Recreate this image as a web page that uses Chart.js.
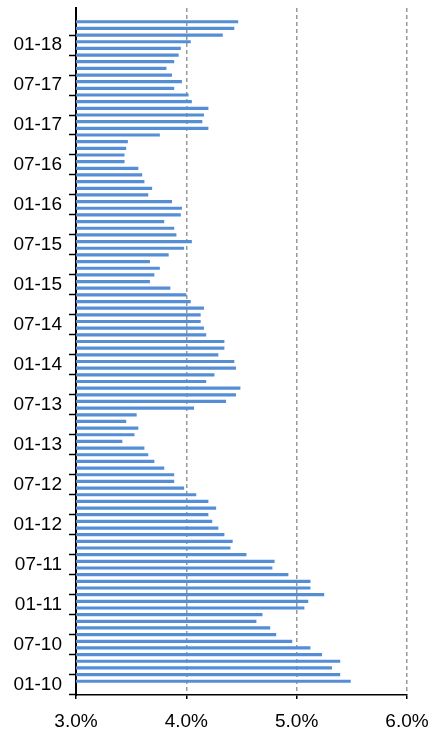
<!DOCTYPE html>
<html>
<head>
<meta charset="utf-8">
<script src="https://cdn.jsdelivr.net/npm/chart.js@4.4.1/dist/chart.umd.min.js"></script>
<style>
    html, body { margin: 0; padding: 0; background: #fff; }
    #wrap { width: 429px; height: 734px; }
</style>
</head>
<body>
<div id="wrap"><canvas id="rateChart"></canvas></div>
<script>
// Datos mensuales, de 01-10 a 04-18 (en %)
const startYear = 2010;
const rates = [
    5.49, 5.395, 5.32, 5.395, 5.23, 5.125, 4.96, 4.815, 4.76, 4.635, 4.69, 5.07,
    5.105, 5.25, 5.125, 5.125, 4.925, 4.78, 4.80, 4.545, 4.40, 4.42, 4.345, 4.29,
    4.235, 4.20, 4.27, 4.20, 4.09, 3.98, 3.89, 3.89, 3.80, 3.71, 3.655, 3.62,
    3.42, 3.53, 3.565, 3.455, 3.55, 4.07, 4.36, 4.45, 4.49, 4.18, 4.255, 4.45,
    4.435, 4.29, 4.345, 4.345, 4.18, 4.16, 4.13, 4.13, 4.16, 4.04, 4.00, 3.855,
    3.67, 3.71, 3.76, 3.67, 3.84, 3.98, 4.05, 3.91, 3.89, 3.80, 3.95, 3.96,
    3.87, 3.655, 3.69, 3.62, 3.60, 3.565, 3.44, 3.44, 3.455, 3.47, 3.76, 4.20,
    4.145, 4.16, 4.20, 4.05, 4.02, 3.89, 3.96, 3.87, 3.82, 3.89, 3.93, 3.95,
    4.04, 4.33, 4.435, 4.47
];
const xMin = 3;
const xMax = 6;
const xStep = 1;

const pad2 = (n) => String(n).padStart(2, "0");
const monthLabels = rates.map((v, i) =>
    pad2((i % 12) + 1) + "-" + pad2((startYear + Math.floor(i / 12)) % 100)
);

const fontFamily = "'Liberation Sans', Arial, sans-serif";

new Chart(document.getElementById("rateChart").getContext("2d"), {
    type: "bar",
    data: {
        datasets: [
            {
                data: rates.map((v, i) => ({ x: v, y: i + 0.5 })),
                backgroundColor: "#558ED5",
                borderWidth: 0,
                categoryPercentage: 1,
                barPercentage: 0.48,
            },
        ],
    },
    options: {
        indexAxis: "y",
        responsive: true,
        maintainAspectRatio: false,
        animation: false,
        layout: { padding: { top: 8, right: 22, left: 0, bottom: 0 } },
        plugins: { legend: { display: false }, tooltip: { enabled: false } },
        scales: {
            x: {
                type: "linear",
                min: xMin,
                max: xMax,
                ticks: {
                    stepSize: xStep,
                    padding: 11,
                    color: "#000",
                    font: { family: fontFamily, size: 19 },
                    callback: (v) => v.toFixed(1) + "%",
                },
                grid: {
                    color: (ctx) => (ctx.tick && ctx.tick.value === xMin ? "rgba(0,0,0,0)" : "#999999"),
                    lineWidth: 1.5,
                    tickColor: "#000",
                    tickLength: 4,
                    tickWidth: 1.5,
                },
                border: { color: "#000", width: 1.5, dash: [4, 3] },
                afterFit: (scale) => {
                    scale.height = 39;
                    scale.paddingLeft = 0;
                    scale.paddingRight = 0;
                },
            },
            y: {
                type: "linear",
                min: 0,
                max: rates.length,
                afterBuildTicks: (scale) => {
                    scale.ticks = scale.ticks.filter((t) => t.value % 3 === 0 && t.value < rates.length);
                },
                ticks: {
                    stepSize: 3,
                    autoSkip: false,
                    padding: 7,
                    color: "#000",
                    font: { family: fontFamily, size: 19 },
                    callback: (v) => (v % 6 === 0 ? monthLabels[v] : ""),
                },
                grid: {
                    drawOnChartArea: false,
                    tickColor: "#000",
                    tickLength: 7,
                    tickWidth: 1.5,
                },
                border: { color: "#000", width: 2 },
                afterFit: (scale) => {
                    scale.width = 76;
                    scale.paddingTop = 0;
                    scale.paddingBottom = 0;
                },
            },
        },
    },
});
</script>
</body>
</html>
